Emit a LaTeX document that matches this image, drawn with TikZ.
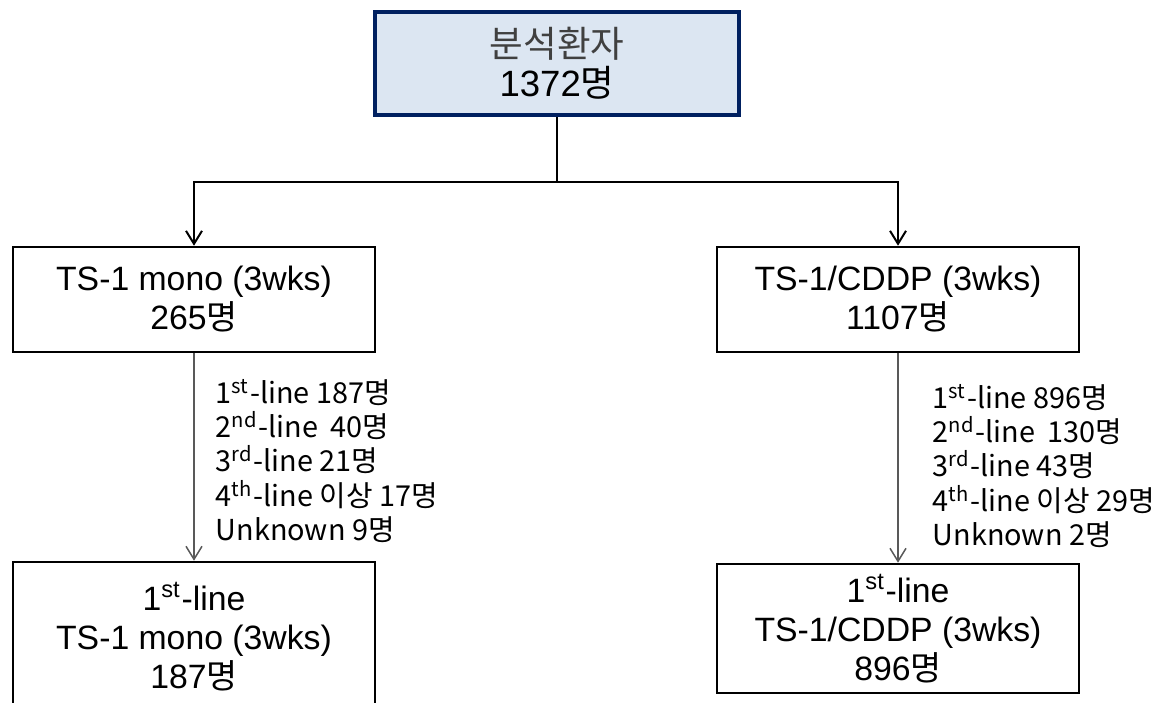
\documentclass[tikz,border=0pt]{standalone}
\usepackage{fontspec}
\setmainfont{Liberation Sans}
\newfontfamily\kr{Noto Sans CJK KR}
\usetikzlibrary{arrows.meta}
\definecolor{navy}{HTML}{002060}
\definecolor{paleblue}{HTML}{DCE6F2}

\begin{document}
\begin{tikzpicture}[x=0.01cm,y=-0.01cm]
\tikzset{topbox/.style={draw=navy,fill=paleblue,line width=0.04cm,minimum width=3.64cm,minimum height=1.03cm,align=center,inner sep=0pt,font=\fontsize{10.4}{11.2}\selectfont}}
\tikzset{armbox/.style={draw=black,line width=0.025cm,minimum width=3.62cm,minimum height=1.05cm,align=center,inner sep=0pt,font=\fontsize{9.6}{11.1}\selectfont}}
\tikzset{mainarrow/.style={draw=black,line width=0.02cm,-{Straight Barb[length=0.13cm,width=0.16cm]}}}
\tikzset{linearrow/.style={draw=black!65,line width=0.015cm,-{Straight Barb[length=0.13cm,width=0.16cm]}}}
\tikzset{linelist/.style={anchor=west,align=left,inner sep=0pt,font=\kr\fontsize{8.2}{9.7}\selectfont}}

\useasboundingbox (0,0) rectangle (1170,702);

\node[topbox] (total) at (557,63.5) {{\kr\color{black!75}분석환자}\\1372{\kr 명}};

\node[armbox] (mono) at (194,299.5) {TS-1 mono (3wks)\\265{\kr 명}};
\node[armbox] (cddp) at (898,299.5) {TS-1/CDDP (3wks)\\1107{\kr 명}};

\node[armbox,minimum height=1.5cm] (monofirst) at (194,637) {1\textsuperscript{st}-line\\TS-1 mono (3wks)\\187{\kr 명}};
\node[armbox,minimum height=1.29cm] (cddpfirst) at (898,628.5) {1\textsuperscript{st}-line\\TS-1/CDDP (3wks)\\896{\kr 명}};

\coordinate (split) at (557,182);
\path[draw,line width=0.02cm] (total.south) -- (split);
\path[mainarrow] (split) -| (mono.north);
\path[mainarrow] (split) -| (cddp.north);

\path[linearrow] (mono.south) -- (monofirst.north);
\path[linearrow] (cddp.south) -- (cddpfirst.north);

\node[linelist] (monolines) at (215,461) {1\textsuperscript{st}-line 187명\\2\textsuperscript{nd}-line~ 40명\\3\textsuperscript{rd}-line 21명\\4\textsuperscript{th}-line 이상 17명\\Unknown 9명};
\node[linelist] (cddplines) at (932,466) {1\textsuperscript{st}-line 896명\\2\textsuperscript{nd}-line~ 130명\\3\textsuperscript{rd}-line 43명\\4\textsuperscript{th}-line 이상 29명\\Unknown 2명};
\end{tikzpicture}
\end{document}
